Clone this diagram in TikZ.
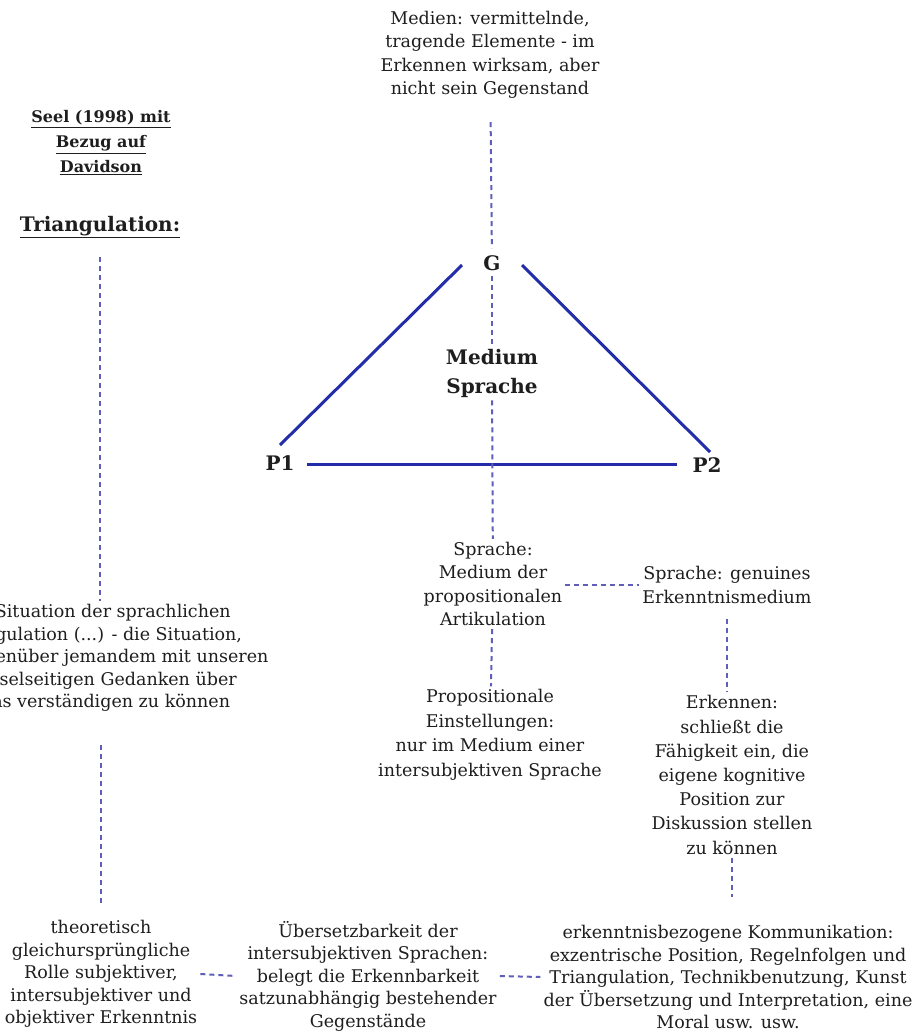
\documentclass[tikz,border=0pt]{standalone}
\usepackage{fontspec}
\setmainfont{DejaVu Serif}
\definecolor{ink}{RGB}{30,30,30}
\definecolor{triblue}{RGB}{35,45,170}
\definecolor{linkblue}{RGB}{95,95,185}
\begin{document}
\begin{tikzpicture}[x=1pt,y=-1pt,
  txt/.style={align=center, text=ink, inner sep=3pt,
    font=\fontsize{17.5}{23.5}\selectfont},
  lowtxt/.style={txt, font=\fontsize{17.5}{22.5}\selectfont},
  head/.style={align=center, text=ink, inner sep=3pt,
    font=\bfseries\fontsize{16}{25}\selectfont},
  vertex/.style={text=ink, inner sep=3pt,
    font=\bfseries\fontsize{20}{24}\selectfont},
  edge/.style={draw=triblue, line width=3pt},
  link/.style={draw=linkblue, line width=2pt, dash pattern=on 5pt off 4pt}]

% canvas
\path[use as bounding box, fill=white] (0,0) rectangle (916,1034);

% headings, left column
\node[head] (seel) at (101,143)
  {\underline{Seel (1998) mit}\\\underline{Bezug auf}\\\underline{Davidson}};
\node[vertex] (tri) at (100,227) {\underline{Triangulation:}};

% triangle of G, P1, P2
\node[txt] (medien) at (490,55)
  {Medien: vermittelnde,\\tragende Elemente - im\\Erkennen wirksam, aber\\nicht sein Gegenstand};
\node[vertex] (G) at (492,263) {G};
\node[vertex] (P1) at (280,463) {P1};
\node[vertex] (P2) at (707,465) {P2};
\node[vertex, align=center, font=\bfseries\fontsize{20}{29}\selectfont] (med) at (492,373)
  {Medium\\Sprache};

% middle and right statements
\node[txt] (spr) at (493,584)
  {Sprache:\\Medium der\\propositionalen\\Artikulation};
\node[txt] (gen) at (727,585) {Sprache: genuines\\Erkenntnismedium};
\node[txt, font=\fontsize{17.5}{24.5}\selectfont] (prop) at (490,735)
  {Propositionale\\Einstellungen:\\nur im Medium einer\\intersubjektiven Sprache};
\node[txt, font=\fontsize{17.5}{24.2}\selectfont] (erk) at (732,775)
  {Erkennen:\\schließt die\\Fähigkeit ein, die\\eigene kognitive\\Position zur\\Diskussion stellen\\zu können};

% left statement, running off the left edge
\node[lowtxt] (sit) at (95,658)
  {Die Situation der sprachlichen\\Triangulation (...) - die Situation,\\sich gegenüber jemandem mit unseren\\wechselseitigen Gedanken über\\etwas verständigen zu können};

% bottom row
\node[lowtxt] (theo) at (101,974)
  {theoretisch\\gleichursprüngliche\\Rolle subjektiver,\\intersubjektiver und\\objektiver Erkenntnis};
\node[lowtxt] (ueb) at (368,976)
  {Übersetzbarkeit der\\intersubjektiven Sprachen:\\belegt die Erkennbarkeit\\satzunabhängig bestehender\\Gegenstände};
\node[lowtxt] (kom) at (728,977)
  {erkenntnisbezogene Kommunikation:\\exzentrische Position, Regelnfolgen und\\Triangulation, Technikbenutzung, Kunst\\der Übersetzung und Interpretation, eine\\Moral usw. usw.};

% triangle sides
\draw[edge] ([shift={(-30,2)}]G.center) -- ([shift={(0,-18)}]P1.center);
\draw[edge] ([shift={(30,2)}]G.center) -- ([shift={(3,-13)}]P2.center);
\draw[edge] ([shift={(27,1)}]P1.center) -- ([shift={(-30,-1)}]P2.center);

% dashed links
\draw[link, shorten <=20pt, shorten >=4pt] (medien) -- (G);
\draw[link, shorten <=2pt] (G) -- (med);
\draw[link] (med) -- (spr);
\draw[link] (spr) -- (prop);
\draw[link] (spr.east |- gen) -- (gen.west);
\draw[link, shorten <=12pt] (gen.south) -- (gen.south |- erk.north);
\draw[link, shorten >=25pt] (erk.south) -- (erk.south |- kom.north);
\draw[link, shorten <=16pt] (tri.south) -- (tri.south |- sit.north);
\draw[link, shorten <=30pt, shorten >=12pt] (sit.south -| theo.north) -- (theo.north);
\draw[link] (theo.east) -- (ueb.west);
\draw[link] (ueb.east) -- (kom.west);
\end{tikzpicture}
\end{document}
